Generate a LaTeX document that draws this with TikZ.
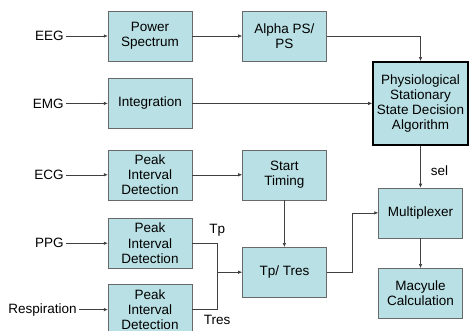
\documentclass[tikz,border=0pt]{standalone}
\usepackage{fontspec}
\setmainfont{Liberation Sans}
\usetikzlibrary{positioning,arrows.meta}
\definecolor{boxfill}{RGB}{185,224,228}
\definecolor{boxline}{RGB}{105,105,105}

\begin{document}
\begin{tikzpicture}[x=1pt, y=1pt,
    node distance=17pt,
    box/.style={draw=boxline, fill=boxfill, minimum width=84pt, minimum height=50pt, align=center, inner sep=1pt, font=\fontsize{13.5}{15.2}\selectfont},
    bigbox/.style={box, draw=black, line width=1.6pt, minimum width=95pt, minimum height=83pt},
    sig/.style={inner sep=2pt, font=\fontsize{13.5}{15.2}\selectfont},
    arrow/.style={-{Latex[length=4pt,width=3.5pt]}, draw=black!75, line width=0.6pt},
    wire/.style={draw=black!75, line width=0.6pt}
  ]
    \useasboundingbox (0,0) rectangle (470,-331);

    % processing blocks
    \node[box] (ps) at (150,-36) {Power\\Spectrum};
    \node[box, below=17pt of ps] (integ) {Integration};
    \node[box, below=21pt of integ] (ecgpk) {Peak\\Interval\\Detection};
    \node[box, below=18pt of ecgpk] (ppgpk) {Peak\\Interval\\Detection};
    \node[box, below=16pt of ppgpk] (resppk) {Peak\\Interval\\Detection};
    \node[box, right=50pt of ps] (alpha) {Alpha PS/\\PS};
    \node[box, right=50pt of ecgpk] (start) {Start\\Timing};
    \node[box, below=47pt of start] (tpres) {Tp/ Tres};
    \node[bigbox, right=180pt of integ] (physio) {Physiological\\Stationary\\State Decision\\Algorithm};
    \node[box, below=42pt of physio] (mux) {Multiplexer};
    \node[box, below=30pt of mux] (macy) {Macyule\\Calculation};

    % input signals
    \node[sig, left=42pt of ps] (eeg) {EEG};
    \node[sig, left=42pt of integ] (emg) {EMG};
    \node[sig, left=42pt of ecgpk] (ecg) {ECG};
    \node[sig, left=42pt of ppgpk] (ppg) {PPG};
    \node[sig, left=29pt of resppk] (resp) {Respiration};

    \draw[arrow] (eeg) -- (ps);
    \draw[arrow] (emg) -- (integ);
    \draw[arrow] (ecg) -- (ecgpk);
    \draw[arrow] (ppg) -- (ppgpk);
    \draw[arrow] (resp) -- (resppk);

    \draw[arrow] (ps) -- (alpha);
    \draw[arrow] (alpha.east) -| (physio.north);
    \draw[arrow] (integ) -- (physio);
    \draw[arrow] (ecgpk) -- (start);
    \draw[arrow] (start) -- (tpres);
    \draw[wire] (ppgpk.east) -- ++(25,0) coordinate (tpjoin) node[sig, above=5pt] {Tp};
    \draw[wire] (resppk.east) -| node[sig, pos=0.5, below=3pt] {Tres} (tpjoin);
    \draw[arrow] (tpjoin |- tpres.west) -- (tpres.west);
    \draw[arrow] (tpres.east) -- ++(26,0) |- (mux.west);
    \draw[arrow] (physio) -- node[sig, pos=0.6, right=8pt] {sel} (mux);
    \draw[arrow] (mux) -- (macy);
  \end{tikzpicture}
\end{document}
